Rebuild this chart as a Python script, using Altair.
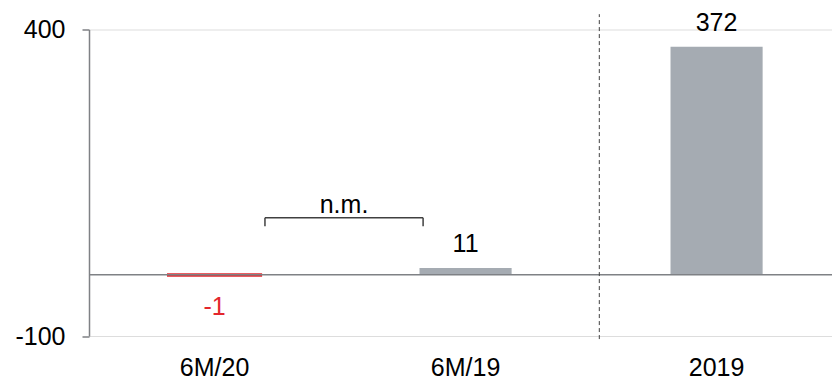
import altair as alt
import pandas as pd

categories = ["6M/20", "6M/19", "2019"]
values = [-1, 11, 372]
value_labels = ["-1", "11", "372"]

# annotation positions (in band-step units from the plot's left edge, data units on y)
bracket_x = [0.701, 1.331]
bracket_y = 92.7
bracket_tick_bottom = 79
bracket_label = "n.m."
bracket_label_y = 113
separator_x = 2.033
separator_y = [-105, 425]

FONT = "Liberation Sans"
FS = 25
GRAY = "#a5abb2"
RED = "#e3262d"
LINE = "#7f8185"

PLOT_W = 743
STEP_UNITS = 2.96  # plot width measured in band steps

df = pd.DataFrame({"cat": categories, "value": values, "label": value_labels})

xband = alt.X("cat:N", sort=categories,
              scale=alt.Scale(paddingInner=0.633, paddingOuter=0.2965, align=0.534),
              axis=alt.Axis(title=None, labelAngle=0, domain=False, ticks=False, tickSize=0,
                            labelPadding=19, labelFontSize=FS, labelFont=FONT,
                            labelColor="#000000"))
yq = alt.Y("value:Q", scale=alt.Scale(domain=[-100, 400], nice=False, zero=False),
           axis=alt.Axis(title=None, values=[-100, 400], grid=False, domainColor=LINE,
                         domainWidth=1.5, tickColor=LINE, tickWidth=1.5, tickSize=7,
                         labelPadding=17, labelFontSize=FS, labelFont=FONT,
                         labelColor="#000000", labelExpr="'' + datum.value"))

base = alt.Chart(df)

bars = base.mark_bar().encode(
    x=xband, y=yq,
    color=alt.condition(alt.datum.value < 0, alt.value(RED), alt.value(GRAY)),
    stroke=alt.condition(alt.datum.value < 0, alt.value(RED), alt.value(GRAY)),
    strokeWidth=alt.condition(alt.datum.value < 0, alt.value(3), alt.value(0)),
)

pos_labels = base.transform_filter(alt.datum.value >= 0).mark_text(
    font=FONT, fontSize=FS, baseline="middle", dy=-23.5, color="#000000"
).encode(x=alt.X("cat:N", sort=categories), y="value:Q", text="label:N")

neg_labels = base.transform_filter(alt.datum.value < 0).mark_text(
    font=FONT, fontSize=FS, baseline="middle", dy=32, color=RED
).encode(x=alt.X("cat:N", sort=categories), y="value:Q", text="label:N")

zero = alt.Chart(pd.DataFrame({"z": [0]})).mark_rule(color=LINE, strokeWidth=1.5).encode(
    y=alt.Y("z:Q"))

helper_x = alt.Scale(domain=[0, STEP_UNITS], nice=False, zero=False)

sep = alt.Chart(pd.DataFrame({"x": [separator_x], "y": [separator_y[0]], "y2": [separator_y[1]]})).mark_rule(
    color="#404040", strokeWidth=1, strokeDash=[4, 3]
).encode(x=alt.X("x:Q", scale=helper_x, axis=None), y="y:Q", y2="y2:Q")

br_h = alt.Chart(pd.DataFrame({"x": [bracket_x[0]], "x2": [bracket_x[1]], "y": [bracket_y]})).mark_rule(
    color="#404040", strokeWidth=1.5
).encode(x=alt.X("x:Q", scale=helper_x, axis=None), x2="x2:Q", y="y:Q")

br_v = alt.Chart(pd.DataFrame({"x": bracket_x, "y": [bracket_tick_bottom] * 2,
                               "y2": [bracket_y] * 2})).mark_rule(
    color="#404040", strokeWidth=1.5
).encode(x=alt.X("x:Q", scale=helper_x, axis=None), y="y:Q", y2="y2:Q")

br_t = alt.Chart(pd.DataFrame({"x": [sum(bracket_x) / 2], "y": [bracket_label_y],
                               "t": [bracket_label]})).mark_text(
    font=FONT, fontSize=FS, baseline="middle", color="#000000"
).encode(x=alt.X("x:Q", scale=helper_x, axis=None), y="y:Q", text="t:N")

band_layer = alt.layer(bars, zero, pos_labels, neg_labels)
ann_layer = alt.layer(sep, br_h, br_v, br_t)

chart = alt.layer(band_layer, ann_layer).resolve_scale(x="independent").properties(
    width=PLOT_W, height=306.5,
    padding={"left": 81, "top": 21.5, "right": 0, "bottom": 43},
    autosize=alt.AutoSizeParams(type="none"),
).configure_view(stroke="transparent", strokeWidth=0).configure_axis(grid=False).configure(background="white")

chart.save("out.html", embed_options={"renderer": "svg", "actions": False})
